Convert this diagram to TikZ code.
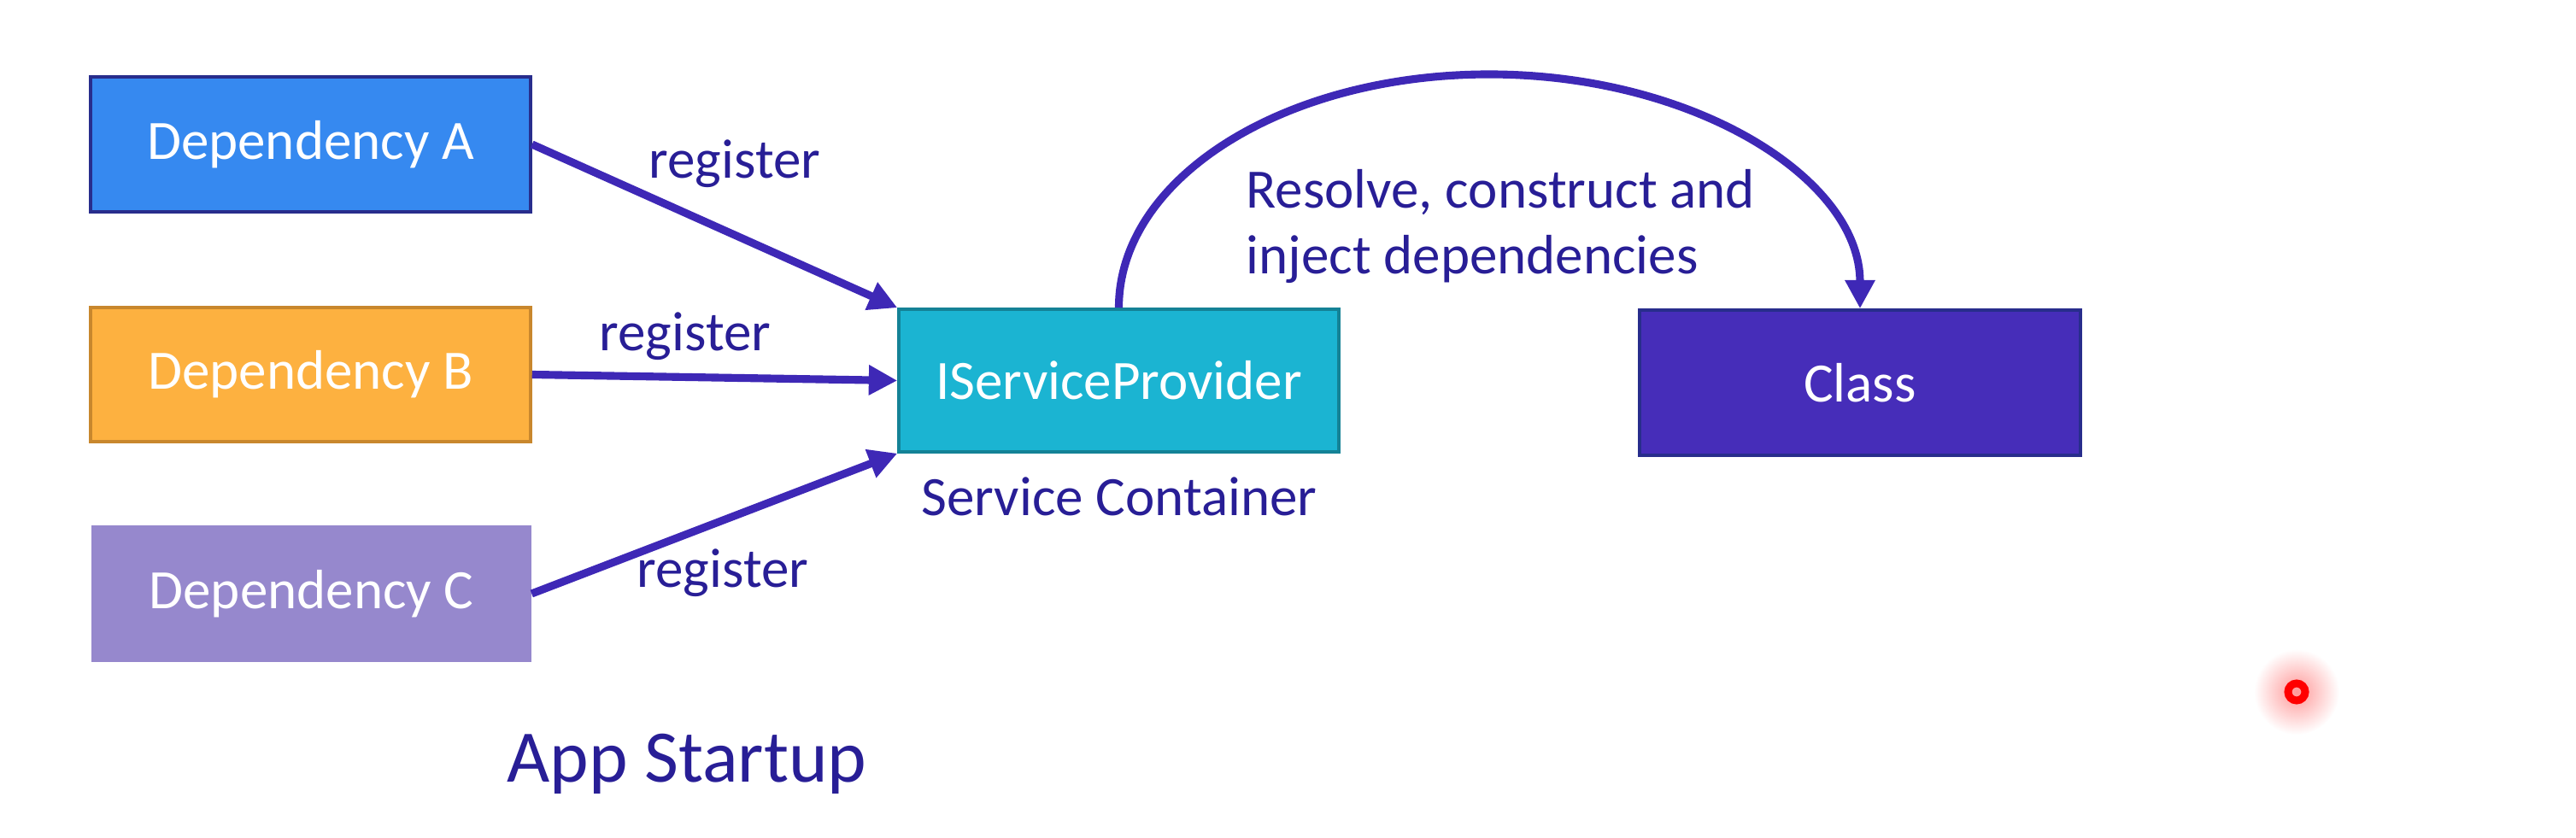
\documentclass[tikz,border=0pt]{standalone}
\usepackage{fontspec}
\setmainfont{Carlito}
\usetikzlibrary{arrows.meta}
\definecolor{depablue}{RGB}{54,137,240}
\definecolor{depborder}{RGB}{40,45,140}
\definecolor{depborange}{RGB}{253,177,64}
\definecolor{depbedge}{RGB}{200,135,45}
\definecolor{depcpurple}{RGB}{150,136,205}
\definecolor{ispcyan}{RGB}{27,180,210}
\definecolor{ispedge}{RGB}{20,130,150}
\definecolor{classviolet}{RGB}{70,45,185}
\definecolor{arrowink}{RGB}{62,40,182}
\definecolor{labelink}{RGB}{40,30,150}
\tikzset{
  box/.style={minimum width=5.15cm,minimum height=1.6cm,inner sep=0pt,
    text=white,font=\fontsize{18.5}{22}\selectfont,line width=1pt},
  label/.style={text=labelink,font=\fontsize{18.5}{22}\selectfont,inner sep=0pt},
  wire/.style={arrowink,line width=2.6pt,-{Triangle[length=9.5pt,width=9.5pt]}}
}
\begin{document}
\begin{tikzpicture}
\useasboundingbox (0,0) rectangle (30.15,9.81);
\node[box,fill=depablue,draw=depborder,minimum height=1.58cm] (depA) at (3.635,8.12) {Dependency A};
\node[box,fill=depborange,draw=depbedge,minimum height=1.57cm] (depB) at (3.635,5.425) {Dependency B};
\node[box,fill=depcpurple,draw=depcpurple,minimum width=5.12cm,minimum height=1.56cm] (depC) at (3.645,2.86) {Dependency C};
\node[box,fill=ispcyan,draw=ispedge,minimum height=1.67cm] (isp) at (13.095,5.355) {IServiceProvider};
\node[box,fill=classviolet,draw=depborder,minimum width=5.16cm,minimum height=1.7cm] (cls) at (21.77,5.33) {Class};
\coordinate (arcTop) at (17.43,8.94);
\draw[wire] (depA.east) -- (isp.north west);
\draw[wire] (depB.east) -- (isp.west);
\draw[wire] (depC.east) -- (isp.south west);
\draw[wire] (isp.north) .. controls +(0,1.52) and +(-2.40,0) .. (arcTop)
  .. controls +(2.40,0) and +(0,1.52) .. (cls.north);
\node[label] (regA) at (8.60,7.89) {register};
\node[label] (regB) at (8.02,5.87) {register};
\node[label] (regC) at (8.46,3.10) {register};
\node[label] (container) at (13.10,4.00) {Service Container};
\node[label,align=left,anchor=west] (resolve) at (14.58,7.16) {Resolve, construct and\\inject dependencies};
\node[label,font=\fontsize{24.7}{29}\selectfont] (startup) at (8.04,0.87) {App Startup};
% laser pointer
\shade[inner color=red!40,outer color=white] (26.88,1.71) circle (0.5);
\draw[red,line width=0.09cm] (26.88,1.71) circle (0.1);
\end{tikzpicture}
\end{document}
